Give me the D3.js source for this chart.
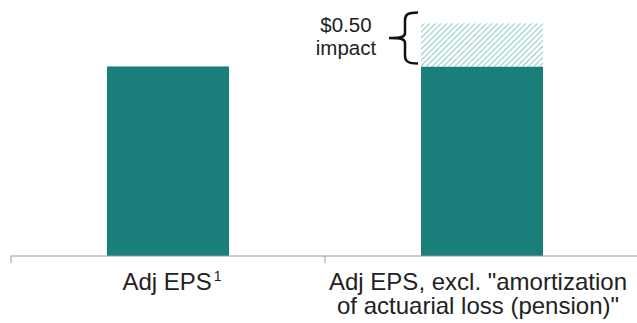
<!DOCTYPE html>
<html><head><meta charset="utf-8">
<script src="https://cdn.jsdelivr.net/npm/d3@7"></script>
<style>body{margin:0;background:#fff}svg{display:block}</style>
</head><body>
<script>
const categories = ["Adj EPS", "Adj EPS, excl. \"amortization of actuarial loss (pension)\""];
const labelLines = [["Adj EPS"], ["Adj EPS, excl. \"amortization", "of actuarial loss (pension)\""]];
const baseValues = [2.20, 2.20];
const impactValues = [0, 0.50];
const impactLabel = ["$0.50", "impact"];

const W = 637, H = 323;
const svg = d3.select("body").append("svg").attr("width", W).attr("height", H);
const defs = svg.append("defs");
const pat = defs.append("pattern").attr("id","hatch").attr("patternUnits","userSpaceOnUse")
  .attr("width",4).attr("height",4).attr("patternTransform","rotate(45)");
pat.append("rect").attr("width",4).attr("height",4).attr("fill","#fff");
pat.append("line").attr("x1",0).attr("y1",0).attr("x2",0).attr("y2",4)
  .attr("stroke","#8acbc7").attr("stroke-width",2);

const x = d3.scaleBand().domain(categories).range([11, 639]).paddingInner(0).paddingOuter(0);
const y = d3.scaleLinear().domain([0, 2.96]).range([256, 1]);
const bw = 122;
const teal = "#1a7f7a";

categories.forEach((c, i) => {
  const cx = x(c) + x.bandwidth()/2;
  svg.append("rect").attr("x", cx - bw/2).attr("width", bw)
    .attr("y", y(baseValues[i])).attr("height", y(0) - y(baseValues[i])).attr("fill", teal);
  if (impactValues[i] > 0) {
    const top = y(baseValues[i] + impactValues[i]);
    svg.append("rect").attr("x", cx - bw/2).attr("width", bw)
      .attr("y", top).attr("height", y(baseValues[i]) - top).attr("fill", "url(#hatch)");
  }
});

// axis
const axisY = y(0);
svg.append("line").attr("x1", 11).attr("x2", 637).attr("y1", axisY).attr("y2", axisY)
  .attr("stroke", "#999").attr("stroke-width", 1);
[11, x(categories[1])].forEach(t => {
  svg.append("line").attr("x1", t).attr("x2", t).attr("y1", axisY).attr("y2", axisY + 7)
    .attr("stroke", "#999").attr("stroke-width", 1);
});

// labels
const font = "Liberation Sans, Arial, sans-serif";
categories.forEach((c, i) => {
  const cx = x(c) + x.bandwidth()/2 - (i === 1 ? 4 : -4);
  labelLines[i].forEach((ln, j) => {
    const t = svg.append("text").attr("x", cx).attr("y", 290 + j*24)
      .attr("text-anchor", "middle").attr("font-family", font).attr("font-size", 24)
      .attr("fill", "#222").text(ln);
    if (i === 0) t.append("tspan").attr("dy", -9).attr("dx", 2).attr("font-size", 14).text("1");
  });
});

// brace
const b0 = y(baseValues[1] + impactValues[1]) - 11, b1 = y(baseValues[1]) - 3;
const bx = 405, mid = (b0 + b1)/2;
svg.append("path")
  .attr("d", `M${bx+13},${b0} C${bx+3},${b0} ${bx},${b0+2} ${bx},${b0+8} L${bx},${mid-5} C${bx},${mid-1} ${bx-4},${mid} ${bx-16},${mid} C${bx-4},${mid} ${bx},${mid+1} ${bx},${mid+5} L${bx},${b1-8} C${bx},${b1-2} ${bx+3},${b1} ${bx+13},${b1}`)
  .attr("fill", "none").attr("stroke", "#111").attr("stroke-width", 2.5);
impactLabel.forEach((ln, j) => {
  svg.append("text").attr("x", 346).attr("y", 32 + j*23).attr("text-anchor", "middle")
    .attr("font-family", font).attr("font-size", 20.5).attr("fill", "#222").text(ln);
});
</script>
</body></html>
